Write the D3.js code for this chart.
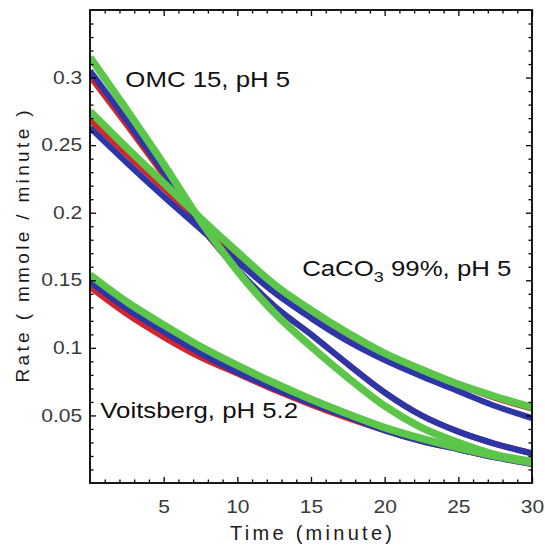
<!DOCTYPE html>
<html>
<head>
<meta charset="utf-8">
<script src="https://cdnjs.cloudflare.com/ajax/libs/d3/7.8.5/d3.min.js"></script>
<style>
  body { margin: 0; background: #fff; }
  svg { display: block; font-family: "Liberation Sans", Arial, sans-serif; }
</style>
</head>
<body>
<div id="grafica"></div>
<script>
// tiempos de lectura (minutos)
let tiempos = [0, 2.5, 5, 7.5, 10, 12.5, 15, 17.5, 20, 22.5, 25, 27.5, 30];

// OMC 15, pH 5
let omcRojo  = [0.301, 0.265, 0.228, 0.190, 0.158, 0.131, 0.110, 0.088, 0.067, 0.050, 0.038, 0.029, 0.022];
let omcAzul  = [0.305, 0.268, 0.230, 0.191, 0.158, 0.131, 0.110, 0.088, 0.067, 0.050, 0.038, 0.029, 0.022];
let omcVerde = [0.315, 0.276, 0.236, 0.194, 0.157, 0.126, 0.101, 0.078, 0.057, 0.041, 0.030, 0.021, 0.016];

// CaCO3 99%, pH 5
let cacoRojo  = [0.269, 0.243, 0.218, 0.193, 0.169, 0.146, 0.127, 0.110, 0.096, 0.084, 0.073, 0.063, 0.055];
let cacoAzul  = [0.263, 0.237, 0.212, 0.188, 0.164, 0.141, 0.122, 0.105, 0.091, 0.079, 0.068, 0.057, 0.048];
let cacoVerde = [0.275, 0.248, 0.222, 0.196, 0.171, 0.147, 0.128, 0.111, 0.096, 0.084, 0.073, 0.064, 0.056];

// Voitsberg, pH 5.2
let voitRojo  = [0.145, 0.125, 0.108, 0.093, 0.081, 0.069, 0.058, 0.048, 0.039, 0.031, 0.025, 0.019, 0.014];
let voitAzul  = [0.149, 0.129, 0.112, 0.096, 0.082, 0.070, 0.059, 0.049, 0.039, 0.031, 0.025, 0.019, 0.014];
let voitVerde = [0.154, 0.134, 0.117, 0.101, 0.087, 0.074, 0.062, 0.051, 0.041, 0.033, 0.026, 0.020, 0.015];

let xmayores = [5, 10, 15, 20, 25, 30];
let ymayores = [0.05, 0.1, 0.15, 0.2, 0.25, 0.3];

let ancho = 545, alto = 546;
let margen = {"top": 10, "right": 13, "bottom": 63, "left": 90};
let w = ancho - margen.left - margen.right;
let h = alto - margen.top - margen.bottom;

let xscale = d3.scaleLinear().domain([0, 30]).range([0, w]);
let yscale = d3.scaleLinear().domain([0, 0.35]).range([h, 0]);

let estira = 1.2;  // el texto original esta ensanchado en horizontal

let svg = d3.select("#grafica")
    .append("svg")
    .attr("width", ancho)
    .attr("height", alto);

let g = svg.append("g")
    .attr("transform", "translate(" + margen.left + "," + margen.top + ")");

g.append("clipPath")
    .attr("id", "marco")
    .append("rect")
    .attr("width", w)
    .attr("height", h);

// curvas: rojo, azul y verde encima
let series = [
    {"datos": omcRojo,  "color": "#d3262b", "grosor": 6},
    {"datos": cacoRojo, "color": "#d3262b", "grosor": 6},
    {"datos": voitRojo, "color": "#d3262b", "grosor": 6},
    {"datos": omcAzul,  "color": "#2c36a6", "grosor": 6},
    {"datos": cacoAzul, "color": "#2c36a6", "grosor": 6},
    {"datos": voitAzul, "color": "#2c36a6", "grosor": 6},
    {"datos": omcVerde, "color": "#5cc64a", "grosor": 7.5},
    {"datos": cacoVerde,"color": "#5cc64a", "grosor": 7.5},
    {"datos": voitVerde,"color": "#5cc64a", "grosor": 7.5}
];

let linea = d3.line()
    .x((d, i) => xscale(tiempos[i]))
    .y(d => yscale(d))
    .curve(d3.curveMonotoneX);

g.append("g")
    .attr("clip-path", "url(#marco)")
    .selectAll(".serie")
    .data(series)
    .enter()
    .append("path")
    .attr("class", "serie")
    .attr("d", d => linea(d.datos))
    .style("fill", "none")
    .style("stroke", d => d.color)
    .style("stroke-width", d => d.grosor)
    .style("stroke-linejoin", "round");

// ejes con marcas hacia dentro
let xmenores = d3.range(1, 30).filter(d => d % 5 != 0);
let ymenores = d3.range(1, 35).map(d => d / 100).filter(d => Math.round(d * 100) % 5 != 0);

function marcas(eje, trans) {
    let sel = g.append("g").attr("transform", trans).call(eje);
    sel.select(".domain").remove();
    sel.selectAll("line").style("stroke", "#000").style("stroke-width", 1.3);
    return sel;
}

marcas(d3.axisBottom(xscale).tickValues(xmenores).tickSize(-3.5).tickFormat(""), "translate(0," + h + ")");
marcas(d3.axisTop(xscale).tickValues(xmenores).tickSize(-3.5).tickFormat(""), "translate(0,0)");
marcas(d3.axisTop(xscale).tickValues(xmayores).tickSize(-6).tickFormat(""), "translate(0,0)");
marcas(d3.axisLeft(yscale).tickValues(ymenores).tickSize(-3.5).tickFormat(""), "translate(0,0)");
marcas(d3.axisRight(yscale).tickValues(ymenores).tickSize(-3.5).tickFormat(""), "translate(" + w + ",0)");
marcas(d3.axisRight(yscale).tickValues(ymayores).tickSize(-6).tickFormat(""), "translate(" + w + ",0)");

let ejex = marcas(d3.axisBottom(xscale).tickValues(xmayores).tickSize(-6).tickPadding(18)
    .tickFormat(d3.format("~g")), "translate(0," + h + ")");
let ejey = marcas(d3.axisLeft(yscale).tickValues(ymayores).tickSize(-6).tickPadding(6.5)
    .tickFormat(d3.format("~g")), "translate(0,0)");

[ejex, ejey].forEach(e => {
    e.selectAll("text")
        .attr("transform", "scale(" + estira + ",1)")
        .style("font-size", "17.5px")
        .style("font-family", "Liberation Sans, Arial, sans-serif")
        .style("fill", "#3a3a3a");
});

// marco
g.append("rect")
    .attr("width", w)
    .attr("height", h)
    .style("fill", "none")
    .style("stroke", "#000")
    .style("stroke-width", 1.8);

// titulos de ejes
svg.append("text")
    .attr("x", margen.left + w / 2)
    .attr("y", 540)
    .attr("text-anchor", "middle")
    .attr("textLength", 162)
    .attr("lengthAdjust", "spacing")
    .style("font-size", "20px")
    .style("fill", "#1a1a1a")
    .text("Time (minute)");

svg.append("text")
    .attr("transform", "translate(29," + (margen.top + h / 2) + ") rotate(-90)")
    .attr("text-anchor", "middle")
    .attr("textLength", 272)
    .attr("lengthAdjust", "spacing")
    .style("font-size", "19px")
    .style("fill", "#1a1a1a")
    .text("Rate ( mmole / minute )");

// etiquetas de las curvas
let etiquetas = [
    {"t": 2.4, "v": 0.2885, "partes": [["OMC 15, pH 5", false]]},
    {"t": 14.4, "v": 0.1485, "partes": [["CaCO", false], ["3", true], [" 99%, pH 5", false]]},
    {"t": 0.7, "v": 0.0435, "partes": [["Voitsberg, pH 5.2", false]]}
];

etiquetas.forEach(et => {
    let txt = g.append("g")
        .attr("transform", "translate(" + xscale(et.t) + "," + yscale(et.v) + ") scale(" + estira + ",1)")
        .append("text")
        .style("font-size", "21.5px")
        .style("fill", "#111");
    et.partes.forEach(p => {
        if (p[1]) {
            txt.append("tspan").attr("dy", 6).style("font-size", "15px").text(p[0]);
        } else {
            txt.append("tspan").attr("dy", txt.selectAll("tspan").size() > 0 ? -6 : 0).text(p[0]);
        }
    });
});
</script>
</body>
</html>
